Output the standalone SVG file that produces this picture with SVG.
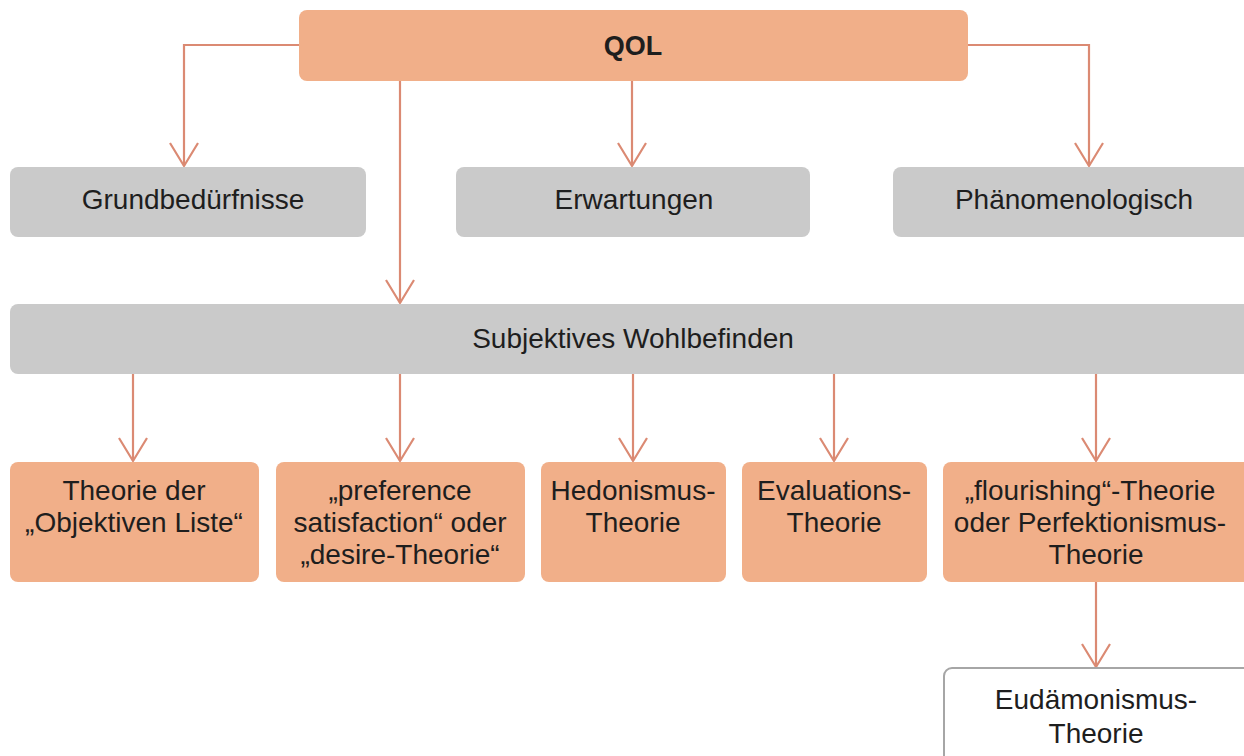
<svg xmlns="http://www.w3.org/2000/svg" width="1244" height="756" viewBox="0 0 1244 756">
<style>
.o{fill:#F1AF89}
.g{fill:#CACACA}
.w{fill:#FFFFFF;stroke:#A6A6A6;stroke-width:2}
text{font-family:"Liberation Sans",Arial,sans-serif;font-size:28px;fill:#1E1E1E;text-anchor:middle}
.b{font-weight:bold;font-size:27px}
.c{fill:none;stroke:#DB8A73;stroke-width:2.2}
</style>
<defs>
<marker id="ah" markerUnits="userSpaceOnUse" markerWidth="32" markerHeight="32" viewBox="-26 -16 32 32" refX="0" refY="0" orient="auto">
<path d="M-23,-14 L0,0 L-23,14" fill="none" stroke="#DB8A73" stroke-width="2.2"/>
</marker>
</defs>
<rect width="1244" height="756" fill="#FFFFFF"/>
<g id="connectors">
<path class="c" d="M299,45 H184 V166" marker-end="url(#ah)"/>
<path class="c" d="M400,81 V303" marker-end="url(#ah)"/>
<path class="c" d="M632,81 V166" marker-end="url(#ah)"/>
<path class="c" d="M968,45 H1089 V166" marker-end="url(#ah)"/>
<path class="c" d="M133,374 V461" marker-end="url(#ah)"/>
<path class="c" d="M400,374 V461" marker-end="url(#ah)"/>
<path class="c" d="M633,374 V461" marker-end="url(#ah)"/>
<path class="c" d="M834,374 V461" marker-end="url(#ah)"/>
<path class="c" d="M1096,374 V461" marker-end="url(#ah)"/>
<path class="c" d="M1096,582 V667" marker-end="url(#ah)"/>
</g>
<g id="qol"><rect class="o" x="299" y="10" width="669" height="71" rx="8"/><text class="b" x="633" y="55">QOL</text></g>
<g id="grund"><rect class="g" x="10" y="167" width="356" height="70" rx="8"/><text x="193" y="209">Grundbedürfnisse</text></g>
<g id="erw"><rect class="g" x="456" y="167" width="354" height="70" rx="8"/><text x="634" y="209">Erwartungen</text></g>
<g id="phaen"><rect class="g" x="893" y="167" width="362" height="70" rx="8"/><text x="1074" y="209">Phänomenologisch</text></g>
<g id="swb"><rect class="g" x="10" y="304" width="1246" height="70" rx="8"/><text x="633" y="348">Subjektives Wohlbefinden</text></g>
<g id="objliste"><rect class="o" x="10" y="462" width="249" height="120" rx="8"/><text x="134" y="500">Theorie der</text><text x="134" y="532">„Objektiven Liste“</text></g>
<g id="pref"><rect class="o" x="276" y="462" width="249" height="120" rx="8"/><text x="400" y="500">„preference</text><text x="400" y="532">satisfaction“ oder</text><text x="400" y="564">„desire-Theorie“</text></g>
<g id="hedon"><rect class="o" x="541" y="462" width="185" height="120" rx="8"/><text x="633" y="500">Hedonismus-</text><text x="633" y="532">Theorie</text></g>
<g id="eval"><rect class="o" x="742" y="462" width="185" height="120" rx="8"/><text x="834" y="500">Evaluations-</text><text x="834" y="532">Theorie</text></g>
<g id="flour"><rect class="o" x="943" y="462" width="310" height="120" rx="8"/><text x="1090" y="500">„flourishing“-Theorie</text><text x="1090" y="532">oder Perfektionismus-</text><text x="1096" y="564">Theorie</text></g>
<g id="eudaim"><rect class="w" x="944" y="668" width="310" height="100" rx="8"/><text x="1096" y="709">Eudämonismus-</text><text x="1096" y="743">Theorie</text></g>
</svg>
